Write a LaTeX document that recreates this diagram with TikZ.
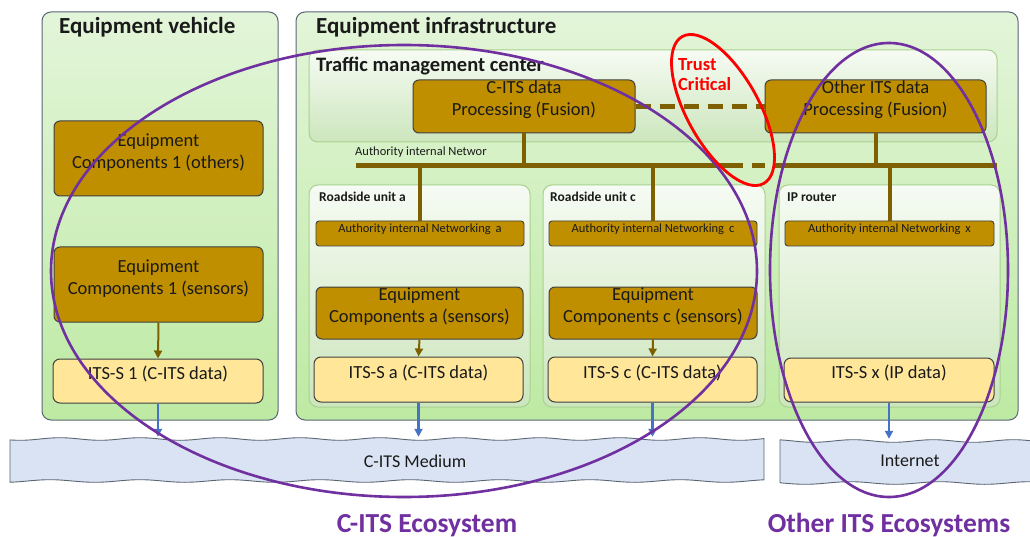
\documentclass[tikz,border=0pt]{standalone}
\usepackage{fontspec}
\setmainfont{Carlito}
\usetikzlibrary{fit,arrows.meta}

\definecolor{brownbox}{HTML}{BF8F00}
\definecolor{busbrown}{HTML}{7F6000}
\definecolor{itsfill}{HTML}{FFE699}
\definecolor{edgegray}{HTML}{5B6675}
\definecolor{boxedge}{HTML}{404040}
\definecolor{medfill}{HTML}{DAE3F3}
\definecolor{ecopurple}{HTML}{7030A0}
\definecolor{arrowblue}{HTML}{4472C4}
\definecolor{greentop}{HTML}{E3F5D9}
\definecolor{greenbot}{HTML}{BDEAA3}
\definecolor{palegreen}{HTML}{A9D18E}
\definecolor{innertop}{HTML}{F6FBF3}
\definecolor{innerbot}{HTML}{CCE6BD}
\definecolor{txt}{HTML}{1A1A1A}

\begin{document}
\begin{tikzpicture}[x=1pt,y=-1pt,
  outerbox/.style={draw=edgegray, line width=1pt, rounded corners=9pt,
    top color=greentop, bottom color=greenbot, inner sep=0pt},
  innerbox/.style={draw=palegreen, line width=1pt, rounded corners=9pt,
    top color=innertop, bottom color=innerbot, inner sep=0pt},
  comp/.style={draw=boxedge, line width=1pt, fill=brownbox, rounded corners=6pt,
    inner sep=0pt, align=center, text=txt, font=\fontsize{18.5}{22}\selectfont},
  itsbox/.style={draw=boxedge, line width=1pt, fill=itsfill, rounded corners=7pt,
    inner sep=0pt, align=center, text=txt, font=\fontsize{18.5}{22}\selectfont},
  netbox/.style={draw=boxedge, line width=0.9pt, fill=brownbox, rounded corners=3pt,
    inner sep=0pt, text=txt, font=\fontsize{12.5}{14}\selectfont},
  heading/.style={anchor=base west, inner sep=0pt, text=txt, font=\bfseries\fontsize{23}{26}\selectfont},
  subheading/.style={anchor=base west, inner sep=0pt, text=txt, font=\bfseries\fontsize{20.5}{24}\selectfont},
  smallhead/.style={anchor=base west, inner sep=0pt, text=txt, font=\bfseries\fontsize{13.5}{16}\selectfont},
  smalltext/.style={anchor=base west, inner sep=0pt, text=txt, font=\fontsize{12.5}{15}\selectfont},
  bandarea/.style={inner sep=0pt, text=txt, font=\fontsize{18}{21}\selectfont},
  bandshape/.style={draw=edgegray, line width=0.9pt, fill=medfill, line join=round},
  bus/.style={draw=busbrown, line width=5pt},
  drop/.style={draw=busbrown, line width=4pt},
  feed/.style={draw=busbrown, line width=2pt, -{Triangle[length=8pt,width=8pt]}},
  radio/.style={draw=arrowblue, line width=2.2pt, -{Triangle[length=8pt,width=8pt]}},
  eco/.style={draw=ecopurple, line width=2.6pt},
  ecolabel/.style={inner sep=0pt, text=ecopurple, font=\bfseries\fontsize{27.5}{30}\selectfont},
  trustlabel/.style={anchor=base west, inner sep=0pt, text=red, font=\bfseries\fontsize{18.5}{20}\selectfont},
  trust/.style={draw=red, line width=2.8pt}
]
\clip (0,0) rectangle (1030,537);
\fill[white] (0,0) rectangle (1030,537);

% ---------- vehicle side ----------
\node[outerbox, fit={(42,12) (278,420)}] (veh) {};
\node[heading] (vehtitle) at (59,34) {Equipment vehicle};
\node[comp, fit={(54,121) (263,196)}] (comp1o) {Equipment\\Components 1 (others)};
\node[comp, fit={(54,247) (263,322)}] (comp1s) {Equipment\\Components 1 (sensors)};
\node[itsbox, fit={(53,359) (263,403)}] (its1) {ITS-S 1 (C-ITS data)};

% ---------- infrastructure side ----------
\node[outerbox, fit={(296,12) (1018,420)}] (infra) {};
\node[heading] (infratitle) at (316,34) {Equipment infrastructure};

\node[innerbox, fit={(309,50) (997,142)}] (tmc) {};
\node[subheading] (tmctitle) at (316,72) {Traffic management center};
\node[comp, fit={(413,80) (635,133)}] (citsproc) {C-ITS data\\Processing (Fusion)};
\node[comp, fit={(765,80) (986,133)}] (otherproc) {Other ITS data\\Processing (Fusion)};

\node[innerbox, fit={(309,185) (530,407)}] (rsa) {};
\node[innerbox, fit={(543,185) (765,407)}] (rsc) {};
\node[innerbox, fit={(779,185) (1000,407)}] (ipr) {};
\node[smallhead] (rsatitle) at (319,202) {Roadside unit a};
\node[smallhead] (rsctitle) at (550,202) {Roadside unit c};
\node[smallhead] (iprtitle) at (787,202) {IP router};

\node[netbox, fit={(316,221) (524,246)}] (aina) {Authority internal Networking\, a};
\node[netbox, fit={(549,221) (757,246)}] (ainc) {Authority internal Networking\, c};
\node[netbox, fit={(785,221) (994,246)}] (ainx) {Authority internal Networking\, x};

\node[comp, fit={(316,287) (523,339)}] (compa) {Equipment\\Components a (sensors)};
\node[comp, fit={(549,287) (757,339)}] (compc) {Equipment\\Components c (sensors)};

\node[itsbox, fit={(314,357) (523,402)}] (itsa) {ITS-S a (C-ITS data)};
\node[itsbox, fit={(548,357) (757,402)}] (itsc) {ITS-S c (C-ITS data)};
\node[itsbox, fit={(784,358) (994,402)}] (itsx) {ITS-S x (IP data)};

% ---------- authority network bus ----------
\node[smalltext] (buslabel) at (355,156) {Authority internal Networ};
\coordinate (busL) at (356,166);
\coordinate (busR) at (997,166);
\coordinate (gapL) at (730,166);
\coordinate (gapR) at (778,166);
\draw[bus] (busL) -- (gapL);
\draw[bus, dash pattern=on 13pt off 9pt] (gapL) -- (gapR);
\draw[bus] (gapR) -- (busR);
\draw[bus, dash pattern=on 15pt off 9pt] (citsproc.east) -- (otherproc.west);

\draw[drop] (citsproc.south) -- (citsproc.south |- busL);
\draw[drop] (otherproc.south) -- (otherproc.south |- busL);
\draw[drop] (aina.north) -- (aina.north |- busL);
\draw[drop] (ainc.north) -- (ainc.north |- busL);
\draw[drop] (ainx.north) -- (ainx.north |- busL);

% sensors feeding the stations
\draw[feed] (comp1s.south) -- (its1.north);
\draw[feed] (compa.south) -- (itsa.north);
\draw[feed] (compc.south) -- (itsc.north);

% ---------- media (wavy-edged bands) ----------
\draw[bandshape]
  plot[smooth, domain=10:764, samples=200] (\x, {439 + 1.3*sin(4.5*\x)})
  -- plot[smooth, domain=764:10, samples=200] (\x, {481 + 1.3*sin(4*\x + 70)}) -- cycle;
\draw[bandshape]
  plot[smooth, domain=780:1045, samples=80] (\x, {441 + 1.3*sin(4.5*\x + 30)})
  -- plot[smooth, domain=1045:780, samples=80] (\x, {483 + 1.3*sin(4*\x + 110)}) -- cycle;
\node[bandarea, fit={(10,439) (764,481)}] (medium) {};
\node[bandarea, fit={(780,441) (1045,483)}] (internet) {};
\node[bandarea] (mediumtext) at (415,461) {C-ITS Medium};
\node[bandarea] (internettext) at (910,461) {Internet};

\draw[radio] (its1.south) -- ([yshift=2pt]its1.south |- medium.north);
\draw[radio] (itsa.south) -- ([yshift=2pt]itsa.south |- medium.north);
\draw[radio] (itsc.south) -- ([yshift=2pt]itsc.south |- medium.north);
\draw[radio] (itsx.south) -- ([yshift=2pt]itsx.south |- internet.north);

% ---------- ecosystems ----------
\draw[eco] (404,271) ellipse [x radius=353, y radius=226];
\draw[eco] (889,270) ellipse [x radius=119, y radius=227];
\node[ecolabel, anchor=base] (citseco) at (427,532) {C-ITS Ecosystem};
\node[ecolabel, anchor=base] (othereco) at (889,532) {Other ITS Ecosystems};

% ---------- trust boundary ----------
\draw[trust, rotate around={-61:(723,110)}] (723,110) ellipse [x radius=84, y radius=36];
\node[trustlabel] (trust1) at (678,71) {Trust};
\node[trustlabel] (trust2) at (678,91) {Critical};
\end{tikzpicture}
\end{document}
